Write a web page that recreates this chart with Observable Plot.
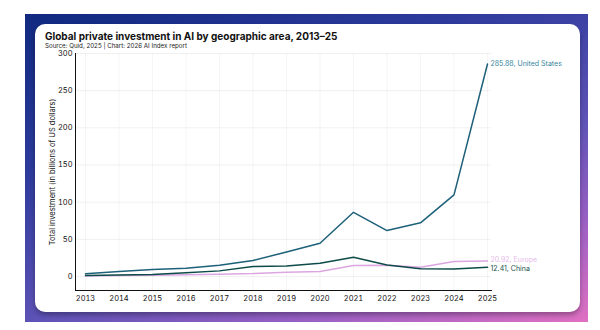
<!DOCTYPE html>
<html><head><meta charset="utf-8">
<script src="https://cdn.jsdelivr.net/npm/d3@7"></script>
<script src="https://cdn.jsdelivr.net/npm/@observablehq/plot@0.6"></script>
<style>
html,body{margin:0;padding:0;background:#fff;width:600px;height:330px;overflow:hidden;font-family:Inter,"Noto Sans",sans-serif;}
#frame{position:absolute;left:25px;top:14px;width:563px;height:308px;background:linear-gradient(160deg,#10297f 0%,#2c3a9c 30%,#5d52b6 60%,#9a60c4 80%,#e070c2 100%);}
#card{position:absolute;left:35px;top:24px;width:545px;height:288px;background:#fff;border-radius:10px;box-shadow:0 3px 5px rgba(0,0,0,0.3);}
#title{position:absolute;left:45px;top:30px;font-size:10px;line-height:12px;font-weight:700;color:#111;white-space:nowrap;}
#sub{position:absolute;left:45px;top:42px;font-size:6.2px;line-height:7px;color:#222;white-space:nowrap;}
#chart{position:absolute;left:40px;top:48px;}
</style></head>
<body>
<div id="frame"></div>
<div id="card"></div>
<div id="title">Global private investment in AI by geographic area, 2013–25</div>
<div id="sub">Source: Quid, 2025 | Chart: 2026 AI Index report</div>
<div id="chart"></div>
<script>
const years = [2013,2014,2015,2016,2017,2018,2019,2020,2021,2022,2023,2024,2025];
const unitedStates = [3.6,6.7,9.4,11.2,15.2,21.5,33,44.8,86.4,61.8,72.2,109.8,285.88];
const china = [1.3,2,2.7,5,7.6,13.4,14,17.9,26,15.5,10.3,10,12.41];
const europe = [0.8,1.3,1.8,2.5,3.2,4,5.8,6.7,14.8,15,12.5,20.2,20.92];
const yTicks = [0,50,100,150,200,250,300];
const seriesNames = ["United States","Europe","China"];
const seriesColors = ["#1d6079","#dca6e2","#0d4b48"];
const labelColors = ["#3a87a0","#e6bbe9","#17504c"];
const labelShift = [0,-1.5,1.5];
const seriesValues = [unitedStates, europe, china];

const rows = [];
seriesNames.forEach((s,i)=>years.forEach((y,j)=>rows.push({series:s, year:y, value:seriesValues[i][j]})));
const ends = seriesNames.map((s,i)=>({series:s, year:years[years.length-1], value:seriesValues[i][years.length-1], color:labelColors[i], shift:labelShift[i]}));

const chart = Plot.plot({
  width: 540, height: 255,
  marginLeft: 35, marginRight: 89, marginTop: 5, marginBottom: 13,
  style: {fontFamily: "Inter, 'Noto Sans', sans-serif", fontSize: "7.5px", color:"#111", background:"transparent"},
  x: {domain: [2013,2025], insetLeft: 10, insetRight: 4},
  y: {domain: [-18.8,300]},
  color: {domain: seriesNames, range: seriesColors},
  marks: [
    Plot.gridY(yTicks, {stroke:"#000", strokeOpacity:0.06}),
    Plot.gridX(years, {stroke:"#000", strokeOpacity:0.04}),
    Plot.frame({anchor:"left", stroke:"#111"}),
    Plot.frame({anchor:"bottom", stroke:"#111"}),
    Plot.axisY(yTicks, {tickSize:0, tickPadding:3, label:"Total investment (in billions of US dollars)", labelAnchor:"center", labelArrow:"none", labelOffset:26}),
    Plot.axisX(years, {tickSize:0, tickPadding:5, tickFormat:d=>String(d), label:null}),
    Plot.line(rows, {x:"year", y:"value", z:"series", stroke:"series", strokeWidth:1.5}),
    ...ends.map(e => Plot.text([e], {x:"year", y:"value", text:d=>`${d.value}, ${d.series}`, fill:"color", textAnchor:"start", dx:3, dy:e.shift, fontSize:7}))
  ]
});
document.getElementById("chart").appendChild(chart);
</script>
</body></html>
